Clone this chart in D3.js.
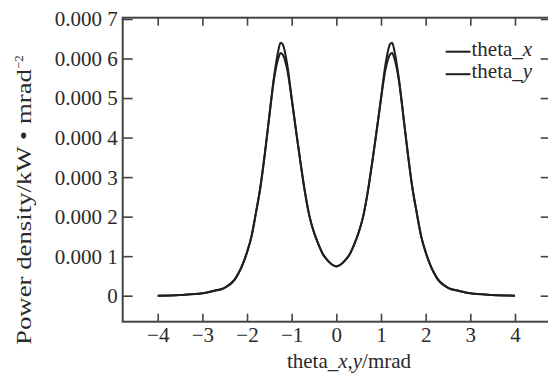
<!DOCTYPE html>
<html><head><meta charset="utf-8">
<script src="https://cdn.jsdelivr.net/npm/d3@7"></script>
<style>
html,body{margin:0;padding:0;background:#fff;}
</style></head>
<body>
<svg id="c" width="548" height="376"></svg>
<script>
// Data (power density in kW·mrad^-2)
const xs = [-4, -3.5, -3, -2.75, -2.5, -2.25, -2, -1.9, -1.8, -1.7, -1.6, -1.5, -1.4, -1.3, -1.25, -1.2, -1.1, -1.0, -0.9, -0.8, -0.7, -0.6, -0.5, -0.4, -0.3, -0.2, -0.1, 0,
            0.1, 0.2, 0.3, 0.4, 0.5, 0.6, 0.7, 0.8, 0.9, 1.0, 1.1, 1.2, 1.25, 1.3, 1.4, 1.5, 1.6, 1.7, 1.8, 1.9, 2, 2.25, 2.5, 2.75, 3, 3.5, 4];
const thetaX = [0.0, 0.02, 0.06, 0.12, 0.2, 0.45, 1.1, 1.5, 2.1, 2.75, 3.6, 4.55, 5.5, 6.2, 6.4, 6.36, 5.85, 5.0, 4.15, 3.35, 2.6, 2.0, 1.6, 1.3, 1.05, 0.9, 0.79, 0.74,
                0.79, 0.9, 1.05, 1.3, 1.6, 2.0, 2.6, 3.35, 4.15, 5.0, 5.85, 6.36, 6.4, 6.2, 5.5, 4.55, 3.6, 2.75, 2.1, 1.5, 1.1, 0.45, 0.2, 0.12, 0.06, 0.02, 0.0];
const thetaY = [0.0, 0.02, 0.06, 0.12, 0.2, 0.45, 1.1, 1.5, 2.1, 2.75, 3.6, 4.55, 5.45, 6.0, 6.14, 6.1, 5.72, 4.98, 4.15, 3.35, 2.6, 2.0, 1.6, 1.3, 1.05, 0.9, 0.79, 0.74,
                0.79, 0.9, 1.05, 1.3, 1.6, 2.0, 2.6, 3.35, 4.15, 4.98, 5.72, 6.1, 6.14, 6.0, 5.45, 4.55, 3.6, 2.75, 2.1, 1.5, 1.1, 0.45, 0.2, 0.12, 0.06, 0.02, 0.0];
const unit = 0.0001;
const xTicks = [-4, -3, -2, -1, 0, 1, 2, 3, 4];
const xTickLabels = ["\u22124", "\u22123", "\u22122", "\u22121", "0", "1", "2", "3", "4"];
const yTicks = [0, 0.0001, 0.0002, 0.0003, 0.0004, 0.0005, 0.0006, 0.0007];
const yTickLabels = ["0", "0.000 1", "0.000 2", "0.000 3", "0.000 4", "0.000 5", "0.000 6", "0.000 7"];
const seriesNames = ["theta_", "theta_"];
const seriesSuffix = ["x", "y"];

const FONT = "'Liberation Serif', 'Times New Roman', 'DejaVu Serif', serif";
const TXT = "#2a2a2a";
const svg = d3.select("#c");
const L = 122.7, R = 550.7, T = 17.7, B = 321.7;
const x = d3.scaleLinear().domain([-4.784, 4.8]).range([L, R]);
const y = d3.scaleLinear().domain([-0.0000658, 0.0007033]).range([B, T]);

const axisColor = "#444";
svg.append("rect").attr("x", L).attr("y", T).attr("width", R - L).attr("height", B - T)
  .attr("fill", "none").attr("stroke", axisColor).attr("stroke-width", 2);

const gB = svg.append("g").attr("transform", `translate(0,${B})`)
  .call(d3.axisBottom(x).tickValues(xTicks).tickSizeInner(-8).tickSizeOuter(0).tickPadding(5)
    .tickFormat((d, i) => xTickLabels[i]));
const gT = svg.append("g").attr("transform", `translate(0,${T})`)
  .call(d3.axisTop(x).tickValues(xTicks).tickSizeInner(-8).tickSizeOuter(0).tickFormat(""));
const gL = svg.append("g").attr("transform", `translate(${L},0)`)
  .call(d3.axisLeft(y).tickValues(yTicks).tickSizeInner(-10).tickSizeOuter(0).tickPadding(5)
    .tickFormat((d, i) => yTickLabels[i]));
const gR = svg.append("g").attr("transform", `translate(${R},0)`)
  .call(d3.axisRight(y).tickValues(yTicks).tickSizeInner(-10).tickSizeOuter(0).tickFormat(""));
[gB, gT, gL, gR].forEach(g => {
  g.attr("font-family", null).attr("font-size", null);
  g.select(".domain").remove();
  g.selectAll(".tick line").attr("stroke", axisColor).attr("stroke-width", 1.6);
  g.selectAll("text").style("font-size", "21px").style("font-family", FONT).attr("fill", TXT);
});
gB.selectAll("text").attr("dy", "0.71em");
gL.selectAll("text").attr("dy", "0.33em");

const line = d3.line().x((d, i) => x(xs[i])).y(d => y(d * unit)).curve(d3.curveMonotoneX);
[thetaX, thetaY].forEach(s => {
  svg.append("path").attr("d", line(s)).attr("fill", "none")
    .attr("stroke", "#1e1e1e").attr("stroke-width", 2);
});

[0, 1].forEach(i => {
  const ly = 51.7 + i * 22.5;
  svg.append("line").attr("x1", 445.7).attr("x2", 470.5).attr("y1", ly).attr("y2", ly)
    .attr("stroke", "#1e1e1e").attr("stroke-width", 2);
  const t = svg.append("text").attr("x", 471.5).attr("y", ly + 4)
    .style("font-size", "21px").style("font-family", FONT).attr("fill", TXT);
  t.append("tspan").text(seriesNames[i]);
  t.append("tspan").attr("font-style", "italic").text(seriesSuffix[i]);
});

const xt = svg.append("text").attr("x", 349).attr("y", 367.5).attr("text-anchor", "middle")
  .style("font-size", "21px").style("font-family", FONT).attr("fill", TXT);
xt.append("tspan").text("theta_");
xt.append("tspan").attr("font-style", "italic").text("x");
xt.append("tspan").text(",");
xt.append("tspan").attr("font-style", "italic").text("y");
xt.append("tspan").text("/mrad");

const yt = svg.append("text").attr("transform", "translate(31,345) rotate(-90)")
  .style("font-size", "21px").style("font-family", FONT).attr("fill", TXT);
yt.append("tspan").attr("textLength", 276).attr("lengthAdjust", "spacingAndGlyphs")
  .text("Power density/kW \u2022 mrad");
yt.append("tspan").style("font-size", "13px").attr("dy", -8).text("\u22122");
</script>
</body></html>
